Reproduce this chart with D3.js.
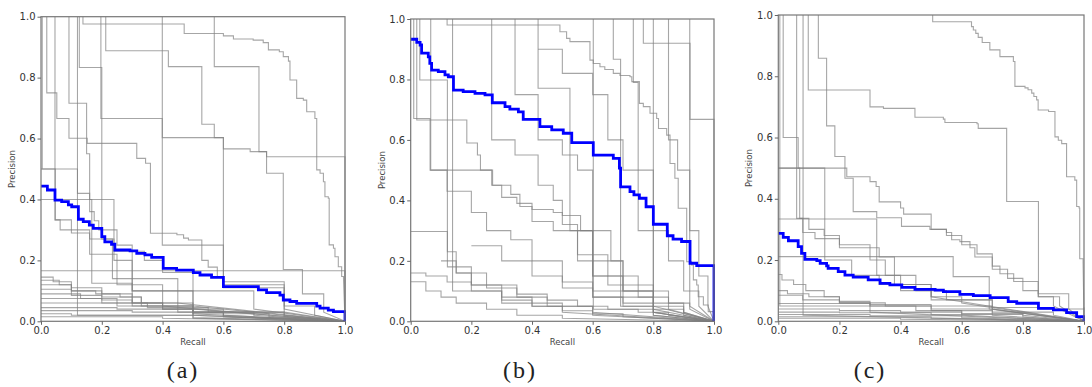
<!DOCTYPE html>
<html>
<head>
<meta charset="utf-8">
<script src="https://cdn.jsdelivr.net/npm/d3@7"></script>
<style>
  html, body { margin: 0; padding: 0; background: #fff; }
  svg { display: block; }
  .tick text { font-family: "DejaVu Sans", sans-serif; font-size: 10px; fill: #333; }
  .axis-title { font-family: "DejaVu Sans", sans-serif; font-size: 8.5px; fill: #444; }
  .panel-label { font-family: "Liberation Serif", "DejaVu Serif", serif; font-size: 24px; fill: #222; letter-spacing: 2px; }
</style>
</head>
<body>
<svg id="chart" width="1092" height="387"></svg>
<script>
// Precision-recall curves for three experiments: one gray step curve per class
// plus the averaged curve in blue. Each curve is a list of [recall, precision]
// steps; the precision holds until the next recall value.

const panelLabels = ["(a)", "(b)", "(c)"];
const axisTicks = [0, 0.2, 0.4, 0.6, 0.8, 1.0];

// ---- (a) ----
const meanA = [[0,0.444],[0.021,0.431],[0.046,0.398],[0.068,0.393],[0.090,0.382],[0.101,0.376],[0.123,0.335],[0.139,0.327],[0.159,0.316],[0.172,0.305],[0.2,0.278],[0.21,0.261],[0.232,0.253],[0.243,0.234],[0.293,0.231],[0.315,0.223],[0.342,0.218],[0.364,0.210],[0.402,0.174],[0.446,0.168],[0.501,0.160],[0.523,0.152],[0.561,0.144],[0.6,0.114],[0.715,0.103],[0.742,0.094],[0.786,0.086],[0.797,0.070],[0.819,0.065],[0.841,0.059],[0.907,0.050],[0.918,0.043],[0.945,0.037],[0.962,0.032],[1.0,0.025],[1,0]];
const classCurvesA = [
  [[0.138,1],[0.138,0.976],[0.471,0.945],[0.6,0.937],[0.633,0.927],[0.698,0.923],[0.731,0.915],[0.748,0.891],[0.784,0.885],[0.797,0.869],[0.814,0.854],[0.819,0.792],[0.841,0.732],[0.863,0.726],[0.874,0.688],[0.901,0.666],[0.907,0.497],[0.918,0.486],[0.929,0.458],[0.934,0.409],[0.945,0.404],[0.948,0.251],[0.962,0.240],[0.967,0.212],[0.978,0.179],[0.989,0.147],[0.995,0.141],[1.0,0]],
  [[0.213,1],[0.213,0.888],[0.419,0.836],[0.529,0.647],[0.570,0.603],[0.6,0.566],[0.688,0.557],[0.742,0.486],[0.797,0.17],[0.86,0.09],[0.93,0.03],[1,0]],
  [[0.570,1],[0.570,0.836],[0.717,0.557],[0.742,0.540],[1.0,0.540],[1,0]],
  [[0.399,1],[0.399,0.603],[0.6,0.11],[0.8,0.05],[0.9,0.02],[1,0]],
  [[0.197,1],[0.197,0.666],[0.399,0.25],[0.6,0.12],[0.8,0.03],[1,0]],
  [[0.019,1],[0.019,0.75],[0.052,0.666],[0.092,0.601],[0.152,0.584],[0.315,0.535],[0.344,0.519],[0.36,0.289],[0.447,0.284],[0.469,0.273],[0.485,0.267],[0.529,0.2],[0.55,0.178],[0.58,0.145],[0.6,0.13],[0.8,0.04],[1,0]],
  [[0.126,1],[0.126,0.833],[0.2,0.27],[0.24,0.2],[0.3,0.1],[0.5,0.04],[1,0]],
  [[0.092,1],[0.092,0.716],[0.15,0.55],[0.16,0.36],[0.175,0.33],[0.19,0.3],[0.25,0.25],[0.3,0.14],[0.45,0.06],[1,0]],
  [[0.046,1],[0.046,0.333],[0.1,0.29],[0.16,0.27],[0.235,0.14],[0.3,0.1],[0.5,0.05],[1,0]],
  [[0.004,1],[0.004,0.5],[0.047,0.333],[0.063,0.3],[0.16,0.22],[0.25,0.12],[0.4,0.05],[1,0]],
  [[0,0.5],[0.12,0.42],[0.16,0.4],[0.24,0.23],[0.34,0.2],[0.4,0.16],[0.5,0.1],[0.7,0.04],[1,0]],
  [[0,0.4],[0.167,0.125],[0.3,0.06],[0.5,0.02],[1,0]],
  [[0,0.166],[1,0.166],[1,0]],
  [[0.12,1],[0.12,0.02],[0.5,0.01],[1,0]],
  [[0,0.145],[0.04,0.13],[0.1,0.11],[0.2,0.09],[0.3,0.06],[0.45,0.03],[0.6,0.015],[1,0]],
  [[0,0.135],[0.06,0.12],[0.1,0.1],[0.18,0.09],[0.26,0.08],[0.33,0.06],[0.4,0.04],[0.5,0.025],[1,0]],
  [[0,0.12],[0.1,0.1],[0.2,0.08],[0.33,0.05],[0.5,0.03],[0.7,0.02],[1,0]],
  [[0,0.105],[0.1,0.085],[0.2,0.07],[0.3,0.05],[0.5,0.02],[1,0]],
  [[0,0.09],[0.13,0.075],[0.25,0.06],[0.4,0.04],[0.6,0.02],[1,0]],
  [[0,0.075],[0.2,0.06],[0.35,0.045],[0.55,0.03],[0.8,0.015],[1,0]],
  [[0,0.06],[0.25,0.05],[0.5,0.03],[0.8,0.02],[1,0]],
  [[0,0.045],[0.25,0.04],[0.5,0.025],[0.75,0.015],[1,0]],
  [[0,0.035],[0.3,0.03],[0.6,0.015],[1,0]],
  [[0,0.025],[0.1,0.02],[0.5,0.012],[1,0]],
  [[0,0.015],[0.4,0.01],[1,0]]
];

// ---- (b) ----
const meanB = [[0,0.933],[0.020,0.923],[0.031,0.914],[0.036,0.887],[0.058,0.875],[0.063,0.853],[0.069,0.831],[0.091,0.826],[0.113,0.815],[0.124,0.809],[0.141,0.765],[0.173,0.760],[0.212,0.754],[0.245,0.749],[0.269,0.723],[0.311,0.710],[0.327,0.702],[0.355,0.693],[0.371,0.668],[0.426,0.644],[0.465,0.633],[0.503,0.622],[0.531,0.591],[0.602,0.550],[0.668,0.539],[0.688,0.507],[0.692,0.445],[0.723,0.429],[0.736,0.418],[0.754,0.407],[0.776,0.379],[0.800,0.321],[0.846,0.283],[0.865,0.272],[0.893,0.264],[0.921,0.192],[0.943,0.184],[1.0,0.173],[1,0]];
const classCurvesB = [
  [[0.12,1],[0.12,0.98],[0.492,0.958],[0.514,0.936],[0.525,0.925],[0.591,0.864],[0.602,0.853],[0.624,0.842],[0.640,0.833],[0.668,0.820],[0.69,0.813],[0.723,0.809],[0.729,0.793],[0.754,0.721],[0.767,0.710],[0.789,0.688],[0.811,0.671],[0.817,0.638],[0.844,0.616],[0.855,0.522],[0.871,0.473],[0.882,0.374],[0.910,0.197],[0.926,0.186],[0.932,0.137],[0.943,0.120],[0.948,0.081],[0.965,0.054],[0.981,0.032],[0.998,0.008],[1,0]],
  [[0.668,1],[0.668,0.867],[0.692,0.05],[0.8,0.02],[1,0]],
  [[0.734,1],[0.734,0.79],[0.75,0.3],[0.8,0.05],[1,0]],
  [[0.767,1],[0.767,0.92],[0.921,0.668],[1,0.668],[1,0]],
  [[0.602,1],[0.602,0.04],[0.8,0.02],[1,0]],
  [[0.8,1],[0.8,0.03],[1,0]],
  [[0.42,1],[0.42,0.771],[0.525,0.3],[0.6,0.1],[0.8,0.03],[1,0]],
  [[0.01,1],[0.01,0.671],[0.064,0.5],[0.12,0.43],[0.2,0.36],[0.25,0.30],[0.33,0.27],[0.4,0.2],[0.5,0.13],[0.6,0.08],[0.7,0.05],[0.8,0.03],[1,0]],
  [[0.02,1],[0.02,0.666],[0.185,0.59],[0.22,0.55],[0.23,0.5],[0.27,0.45],[0.33,0.42],[0.36,0.38],[0.4,0.33],[0.47,0.3],[0.55,0.22],[0.6,0.15],[0.7,0.08],[0.8,0.04],[1,0]],
  [[0.03,1],[0.03,0.798],[0.121,0.18],[0.2,0.12],[0.3,0.08],[0.4,0.05],[0.6,0.02],[1,0]],
  [[0.066,1],[0.066,0.5],[0.267,0.45],[0.3,0.41],[0.35,0.39],[0.4,0.37],[0.47,0.36],[0.5,0.35],[0.56,0.3],[0.6,0.2],[0.7,0.12],[0.8,0.06],[0.9,0.03],[1,0]],
  [[0.138,1],[0.138,0.1],[0.3,0.06],[0.5,0.03],[1,0]],
  [[0,0.297],[0.121,0.23],[0.15,0.16],[0.2,0.12],[0.25,0.11],[0.35,0.08],[0.45,0.05],[0.6,0.03],[1,0]],
  [[0,0.131],[0.05,0.1],[0.1,0.08],[0.15,0.06],[0.25,0.04],[0.35,0.02],[0.5,0.01],[1,0]],
  [[0.267,1],[0.267,0.6],[0.344,0.55],[0.42,0.45],[0.47,0.4],[0.5,0.32],[0.55,0.2],[0.6,0.15],[0.65,0.12],[0.7,0.1],[0.75,0.08],[0.85,0.04],[1,0]],
  [[0.344,1],[0.344,0.75],[0.42,0.6],[0.5,0.55],[0.55,0.5],[0.6,0.3],[0.66,0.2],[0.7,0.15],[0.75,0.1],[0.85,0.06],[0.92,0.04],[1,0]],
  [[0.42,0.9],[0.5,0.82],[0.6,0.75],[0.65,0.6],[0.7,0.5],[0.8,0.3],[0.85,0.2],[0.9,0.1],[0.95,0.05],[1,0]],
  [[0.85,1],[0.85,0.6],[0.88,0.5],[0.92,0.3],[0.95,0.15],[0.98,0.05],[1,0]],
  [[0,0.16],[0.05,0.15],[0.12,0.13],[0.2,0.1],[0.3,0.07],[0.4,0.05],[0.5,0.035],[0.6,0.025],[0.7,0.015],[1,0]],
  [[0.1,0.2],[0.15,0.16],[0.25,0.12],[0.35,0.09],[0.45,0.07],[0.55,0.05],[0.65,0.04],[0.75,0.03],[0.85,0.02],[1,0]],
  [[0.2,0.25],[0.3,0.2],[0.4,0.15],[0.5,0.11],[0.6,0.08],[0.7,0.06],[0.8,0.04],[0.9,0.02],[1,0]],
  [[0.55,0.3],[0.6,0.22],[0.65,0.15],[0.7,0.1],[0.8,0.05],[0.9,0.03],[1,0]],
  [[0.92,1],[0.92,0.05],[1,0]]
];

// ---- (c) ----
const meanC = [[0,0.287],[0.016,0.274],[0.033,0.263],[0.065,0.244],[0.076,0.222],[0.087,0.202],[0.126,0.198],[0.137,0.189],[0.158,0.181],[0.163,0.173],[0.196,0.162],[0.218,0.151],[0.245,0.144],[0.294,0.135],[0.333,0.124],[0.365,0.119],[0.404,0.111],[0.447,0.104],[0.513,0.102],[0.540,0.097],[0.594,0.088],[0.638,0.084],[0.693,0.077],[0.752,0.064],[0.780,0.059],[0.851,0.042],[0.900,0.037],[0.943,0.028],[0.976,0.015],[1,0.004],[1,0]];
const classCurvesC = [
  [[0.505,1],[0.505,0.978],[0.632,0.962],[0.638,0.951],[0.646,0.940],[0.654,0.927],[0.667,0.910],[0.692,0.886],[0.725,0.864],[0.769,0.848],[0.774,0.767],[0.807,0.762],[0.817,0.756],[0.829,0.745],[0.836,0.734],[0.845,0.723],[0.850,0.690],[0.884,0.685],[0.905,0.602],[0.916,0.591],[0.927,0.580],[0.943,0.472],[0.970,0.461],[0.976,0.375],[0.984,0.370],[0.986,0.204],[0.997,0.193],[1,0]],
  [[0.098,1],[0.098,0.755],[0.3,0.70],[0.344,0.695],[0.447,0.666],[0.54,0.66],[0.545,0.649],[0.65,0.645],[0.654,0.630],[0.747,0.624],[0.747,0.391],[0.851,0.08],[0.92,0.05],[1,0]],
  [[0.131,1],[0.131,0.859],[0.158,0.638],[0.185,0.538],[0.218,0.467],[0.245,0.358],[0.322,0.338],[0.403,0.31],[0.496,0.3],[0.55,0.29],[0.567,0.266],[0.594,0.26],[0.627,0.24],[0.643,0.21],[0.7,0.18],[0.725,0.155],[0.77,0.13],[0.85,0.09],[0.95,0.04],[1,0]],
  [[0.016,1],[0.016,0.6],[0.065,0.5],[0.07,0.336],[0.1,0.3],[0.15,0.28],[0.2,0.25],[0.3,0.2],[0.35,0.15],[0.45,0.1],[0.55,0.07],[0.7,0.04],[1,0]],
  [[0.06,1],[0.06,0.336],[0.08,0.29],[0.12,0.27],[0.2,0.24],[0.33,0.21],[0.38,0.12],[0.5,0.08],[0.6,0.06],[1,0]],
  [[0,0.5],[0.152,0.2],[0.24,0.15],[0.33,0.12],[0.5,0.08],[1,0]],
  [[0,0.5],[0.224,0.472],[0.3,0.456],[0.32,0.44],[0.33,0.39],[0.4,0.37],[0.41,0.35],[0.45,0.35],[0.5,0.3],[0.55,0.28],[0.6,0.25],[0.65,0.22],[0.7,0.17],[0.75,0.14],[0.8,0.1],[0.85,0.08],[0.9,0.05],[1,0]],
  [[0,0.334],[0.322,0.15],[0.4,0.1],[0.5,0.07],[0.7,0.04],[1,0]],
  [[0,0.211],[0.572,0.146],[0.69,0.04],[1,0]],
  [[0.081,1],[0.081,0.02],[1,0]],
  [[0.005,1],[0.005,0.05],[0.3,0.03],[1,0]],
  [[0,0.153],[0.012,0.135],[0.05,0.12],[0.09,0.1],[0.15,0.08],[0.2,0.06],[0.3,0.05],[0.45,0.035],[0.6,0.02],[1,0]],
  [[0,0.1],[0.03,0.09],[0.1,0.08],[0.2,0.065],[0.3,0.05],[0.5,0.035],[0.7,0.02],[1,0]],
  [[0,0.085],[0.08,0.07],[0.2,0.06],[0.35,0.05],[0.5,0.04],[0.7,0.03],[0.9,0.02],[1,0]],
  [[0,0.058],[0.3,0.055],[0.5,0.05],[0.7,0.045],[0.85,0.04],[1,0.045],[1,0]],
  [[0,0.04],[0.2,0.035],[0.4,0.03],[0.6,0.025],[0.8,0.02],[1,0]],
  [[0,0.03],[0.2,0.028],[0.5,0.022],[0.8,0.015],[1,0]],
  [[0,0.022],[0.3,0.018],[0.6,0.012],[1,0]],
  [[0,0.015],[0.5,0.01],[1,0]],
  [[0,0.01],[0.4,0.007],[1,0]]
];

const panels = [
  { label: panelLabels[0], mean: meanA, curves: classCurvesA, left: 41,    right: 345,  top: 16.7, bottom: 321.3, labelX: 183 },
  { label: panelLabels[1], mean: meanB, curves: classCurvesB, left: 410.7, right: 714,  top: 19,   bottom: 321.3, labelX: 520 },
  { label: panelLabels[2], mean: meanC, curves: classCurvesC, left: 778.3, right: 1084, top: 15,   bottom: 321.3, labelX: 870 }
];

// Expand step points into vertices: hold precision until the next recall,
// the final segment is joined directly.
function stepVertices(pts) {
  const out = [pts[0]];
  for (let i = 1; i < pts.length; i++) {
    if (i === pts.length - 1) { out.push(pts[i]); break; }
    out.push([pts[i][0], pts[i - 1][1]]);
    out.push(pts[i]);
  }
  return out;
}

const svg = d3.select("#chart");

panels.forEach(p => {
  const x = d3.scaleLinear().domain([0, 1]).range([p.left, p.right]);
  const y = d3.scaleLinear().domain([0, 1]).range([p.bottom, p.top]);
  const line = d3.line().x(d => x(d[0])).y(d => y(d[1]));
  const g = svg.append("g");

  const clipId = "clip-" + p.label.replace(/[()]/g, "");
  svg.append("clipPath").attr("id", clipId)
    .append("rect").attr("x", p.left - 1).attr("y", p.top - 1)
    .attr("width", p.right - p.left + 2).attr("height", p.bottom - p.top + 2);

  const plot = g.append("g").attr("clip-path", `url(#${clipId})`);

  plot.selectAll("path.cls").data(p.curves).join("path")
    .attr("class", "cls")
    .attr("d", d => line(stepVertices(d)))
    .attr("fill", "none")
    .attr("stroke", "#808080")
    .attr("stroke-opacity", 0.7)
    .attr("stroke-width", 1.1);

  plot.append("path")
    .attr("d", line(stepVertices(p.mean)))
    .attr("fill", "none")
    .attr("stroke", "#0000ff")
    .attr("stroke-width", 2.8)
    .attr("stroke-linejoin", "miter");

  // frame
  g.append("rect")
    .attr("x", p.left).attr("y", p.top)
    .attr("width", p.right - p.left).attr("height", p.bottom - p.top)
    .attr("fill", "none").attr("stroke", "#777").attr("stroke-width", 1.2);

  const fmt = d3.format(".1f");
  const xAxis = g.append("g").attr("transform", `translate(0,${p.bottom})`)
    .call(d3.axisBottom(x).tickValues(axisTicks).tickFormat(fmt).tickSize(3.5).tickPadding(2));
  const yAxis = g.append("g").attr("transform", `translate(${p.left},0)`)
    .call(d3.axisLeft(y).tickValues(axisTicks).tickFormat(fmt).tickSize(3.5).tickPadding(2));
  [xAxis, yAxis].forEach(a => {
    a.select(".domain").remove();
    a.selectAll(".tick line").attr("stroke", "#666");
  });

  g.append("text").attr("class", "axis-title")
    .attr("x", (p.left + p.right) / 2).attr("y", p.bottom + 24)
    .attr("text-anchor", "middle").text("Recall");
  g.append("text").attr("class", "axis-title")
    .attr("transform", `translate(${p.left - 26},${(p.top + p.bottom) / 2}) rotate(-90)`)
    .attr("text-anchor", "middle").text("Precision");

  g.append("text").attr("class", "panel-label")
    .attr("x", p.labelX).attr("y", 378)
    .attr("text-anchor", "middle").text(p.label);
});
</script>
</body>
</html>
